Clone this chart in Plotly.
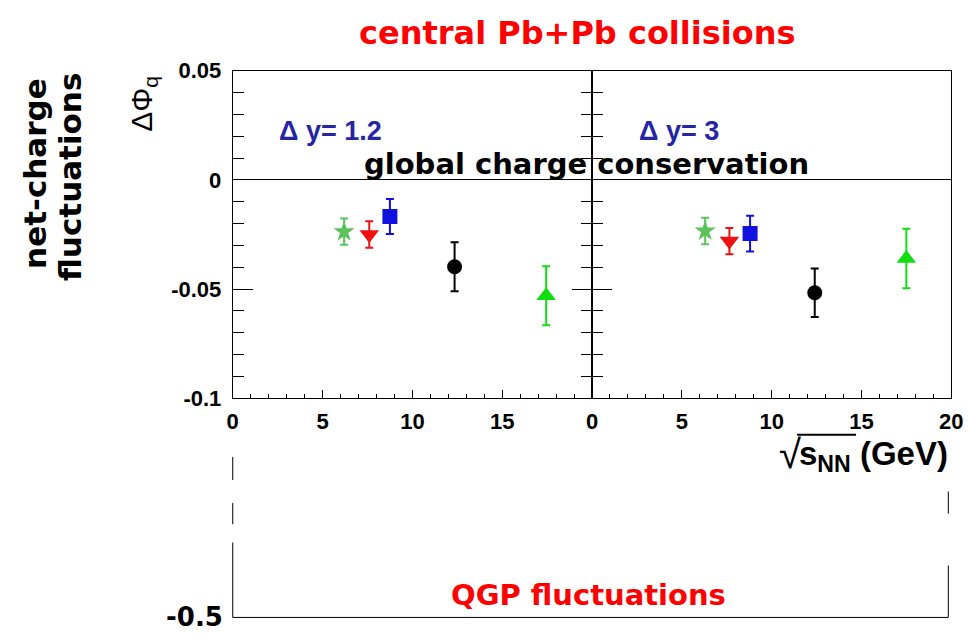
import plotly.graph_objects as go

W, H = 977, 641

# ---- data ----
species = ["star", "tri_down", "square", "circle", "tri_up"]
energy_dy12 = [6.2, 7.6, 8.75, 12.35, 17.45]
dphi_dy12 = [-0.0237, -0.0250, -0.0168, -0.0398, -0.0531]
err_dy12 = [0.0060, 0.0061, 0.0080, 0.0112, 0.0135]

energy_dy3 = [6.3, 7.65, 8.8, 12.4, 17.5]
dphi_dy3 = [-0.0234, -0.0280, -0.0246, -0.0517, -0.0360]
err_dy3 = [0.0061, 0.0060, 0.0082, 0.0111, 0.0136]

x_ticks_left = [0, 5, 10, 15]
x_ticks_right = [0, 5, 10, 15, 20]
y_ticks = [-0.1, -0.05, 0, 0.05]
y_ticktext = ["-0.1", "-0.05", "0", "0.05"]

# ---- styles ----
sym = {"star": "star", "tri_down": "triangle-down", "square": "square",
       "circle": "circle", "tri_up": "triangle-up"}
col = {"star": "#5cc25c", "tri_down": "#ee1111", "square": "#1010e0",
       "circle": "#000000", "tri_up": "#11dd11"}
msize = {"star": 16, "tri_down": 17, "square": 15, "circle": 15, "tri_up": 17}


def px(x):
    return x / W


def py(y):
    return 1 - y / H


fig = go.Figure()
for panel, (xs, ys, es) in enumerate([(energy_dy12, dphi_dy12, err_dy12),
                                       (energy_dy3, dphi_dy3, err_dy3)]):
    xa = "x" if panel == 0 else "x2"
    ya = "y" if panel == 0 else "y2"
    for i, s in enumerate(species):
        fig.add_trace(go.Scatter(
            x=[xs[i]], y=[ys[i]], mode="markers", xaxis=xa, yaxis=ya,
            marker=dict(symbol=sym[s], color=col[s], size=msize[s], line=dict(width=0)),
            error_y=dict(type="data", array=[es[i]], color=col[s], thickness=2, width=4),
            showlegend=False, hoverinfo="skip"))

tickfont = dict(family="Liberation Sans", size=22, color="black", weight="bold")
xcommon = dict(range=[0, 20], showline=True, linecolor="black", linewidth=1,
               mirror=True, ticks="inside", ticklen=8, tickcolor="black",
               minor=dict(dtick=1, ticklen=4, ticks="inside", tickcolor="black"),
               showgrid=False, zeroline=False, tickfont=tickfont,
               ticklabelstandoff=3)
ycommon = dict(range=[-0.1, 0.05], showline=True, linecolor="black", linewidth=1,
               ticks="inside", ticklen=20, tickcolor="black",
               minor=dict(dtick=0.01, ticklen=11, ticks="inside", tickcolor="black"),
               showgrid=False, zeroline=True, zerolinecolor="black", zerolinewidth=1,
               tickvals=y_ticks, ticktext=y_ticktext, tickfont=tickfont,
               domain=[py(402), py(61)])

fig.update_layout(
    width=W, height=H, autosize=False,
    margin=dict(l=0, r=0, t=0, b=0),
    paper_bgcolor="white", plot_bgcolor="white",
    xaxis=dict(domain=[px(231), px(597)], tickvals=x_ticks_left, anchor="y", **xcommon),
    xaxis2=dict(domain=[px(597), px(963)], tickvals=x_ticks_right, anchor="y2", **xcommon),
    yaxis=dict(anchor="x", mirror="ticks", ticklabelstandoff=6, **ycommon),
    yaxis2=dict(anchor="x2", mirror=True, showticklabels=False, matches="y", **ycommon),
)

ann = []
ann.append(dict(text="<b>central Pb+Pb collisions</b>", x=px(582), y=py(22),
                font=dict(family="DejaVu Sans", size=32, color="#ff0000")))
ann.append(dict(text="<b>global charge conservation</b>", x=px(591), y=py(158),
                font=dict(family="DejaVu Sans", size=29, color="black")))
ann.append(dict(text="<b>QGP fluctuations</b>", x=px(593), y=py(607),
                font=dict(family="DejaVu Sans", size=29, color="#ff0000")))
ann.append(dict(text="<b>-0.5</b>", x=px(192), y=py(630),
                font=dict(family="DejaVu Sans", size=26, color="black")))
ann.append(dict(text="<b>net-charge</b>", x=px(30), y=py(168), textangle=-90,
                font=dict(family="DejaVu Sans", size=31, color="black")))
ann.append(dict(text="<b>fluctuations</b>", x=px(66), y=py(171), textangle=-90,
                font=dict(family="DejaVu Sans", size=31, color="black")))
ann.append(dict(text="ΔΦ<sub>q</sub>", x=px(140), y=py(95), textangle=-90,
                font=dict(family="Liberation Sans", size=30, color="black")))
ann.append(dict(text="<b>Δ y= 1.2</b>", x=px(331), y=py(124),
                font=dict(family="Liberation Sans", size=27, color="#2525a5")))
ann.append(dict(text="<b>Δ y= 3</b>", x=px(686), y=py(124),
                font=dict(family="Liberation Sans", size=27, color="#2525a5")))
ann.append(dict(text="<b>s<sub>NN</sub> (GeV)</b>", x=px(962), y=py(462), xanchor="right",
                font=dict(family="Liberation Sans", size=33, color="black")))
ann.append(dict(text="√", x=px(812), y=py(460), xanchor="right",
                font=dict(family="Liberation Sans", size=40, color="black")))
for a in ann:
    a.setdefault("xanchor", "center")
    a.update(xref="paper", yref="paper", yanchor="middle", showarrow=False)
fig.update_layout(annotations=ann)

shapes = []
line = dict(color="black", width=1)
# sqrt overline
shapes.append(dict(type="line", x0=px(806), x1=px(866), y0=py(440), y1=py(440),
                   line=dict(color="black", width=2)))
# lower frame pieces
for y0, y1 in [(463, 487), (511, 533), (552, 630)]:
    shapes.append(dict(type="line", x0=px(231), x1=px(231), y0=py(y0), y1=py(y1), line=line))
for y0, y1 in [(499, 522), (576, 630)]:
    shapes.append(dict(type="line", x0=px(960), x1=px(960), y0=py(y0), y1=py(y1), line=line))
shapes.append(dict(type="line", x0=px(231), x1=px(960), y0=py(630), y1=py(630), line=line))
for s in shapes:
    s.update(xref="paper", yref="paper")
fig.update_layout(shapes=shapes)

fig.write_html("out.html")
